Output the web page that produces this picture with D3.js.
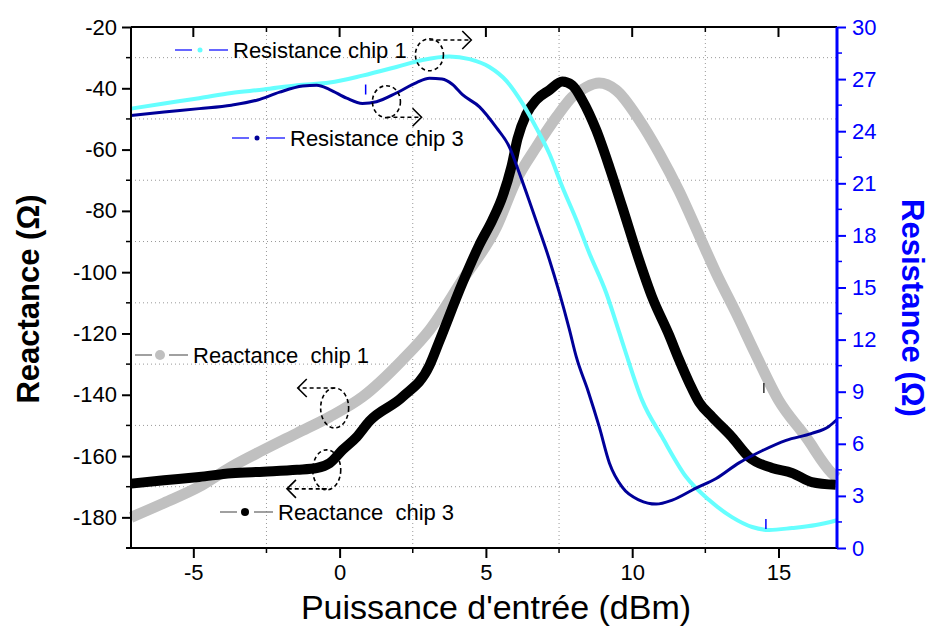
<!DOCTYPE html>
<html>
<head>
<meta charset="utf-8">
<script src="https://cdn.jsdelivr.net/npm/d3@7"></script>
<style>
  html, body { margin: 0; padding: 0; background: #fff; }
  svg { display: block; font-family: "Liberation Sans", Arial, sans-serif; }
</style>
</head>
<body>
<svg id="chart" width="929" height="630"></svg>
<script>
// ---------------- DATA ----------------
const xTicks = [-5, 0, 5, 10, 15];
const xMinorTicks = [-2.5, 2.5, 7.5, 12.5];
const leftTicks = [-20, -40, -60, -80, -100, -120, -140, -160, -180];
const leftMinorTicks = [-30, -50, -70, -90, -110, -130, -150, -170, -190];
const rightTicks = [0, 3, 6, 9, 12, 15, 18, 21, 24, 27, 30];
const rightMinorTicks = [1.5, 4.5, 7.5, 10.5, 13.5, 16.5, 19.5, 22.5, 25.5, 28.5];

// Reactance chip 3 (black, left axis)
const xReactChip3 = [-7.13, -6.0, -4.8, -3.7, -2.6, -1.45, -0.78, -0.34, 0.1, 0.58, 1.02, 2.15, 3.07, 3.41, 4.2, 4.78, 5.22, 5.56, 5.87, 6.08, 6.38, 6.72, 7.17, 7.61, 7.95, 8.29, 8.77, 9.22, 9.66, 10.2, 10.68, 11.26, 11.6, 11.95, 12.29, 12.73, 13.41, 13.99, 14.78, 15.46, 16.14, 16.96];
const reactChip3 = [-169, -167.9, -166.8, -165.6, -165.1, -164.5, -163.9, -162.3, -158, -153.8, -148.6, -140.7, -130.5, -122.5, -103.5, -91, -83, -75.5, -65.7, -56.5, -48.5, -43.8, -40.6, -37.8, -39, -43.8, -53.6, -65.7, -78.7, -95, -108.1, -120.5, -128.5, -136.1, -142.5, -147.2, -153.8, -160.3, -163.9, -165.5, -168.5, -169.4];

// Reactance chip 1 (grey, left axis)
const xReactChip1 = [-7.13, -6.0, -4.8, -3.7, -2.6, -1.45, -0.34, 0.78, 2.15, 3.07, 4.2, 5.36, 6.04, 6.72, 7.41, 7.95, 8.43, 8.87, 9.45, 10.24, 10.92, 11.6, 12.29, 12.87, 13.55, 14.2, 15.0, 15.94, 16.82, 17];
const reactChip1 = [-180, -175.3, -170, -163.5, -158, -152.5, -147.2, -140.7, -128.6, -118.9, -102.5, -85.3, -69.9, -59.2, -49.4, -42.8, -39.6, -38.3, -40.6, -50.3, -61.1, -73.5, -88.0, -100.3, -113.3, -126.4, -141.7, -153.8, -165.5, -167];

// Resistance chip 1 (cyan, right axis)
const xResChip1 = [-7.13, -6.0, -4.8, -3.7, -2.6, -1.45, -0.34, 0.78, 1.94, 2.83, 3.75, 4.44, 5.12, 5.7, 6.25, 6.72, 7.17, 7.61, 8.09, 8.53, 9.11, 9.56, 9.77, 10.34, 11.02, 11.84, 12.63, 13.41, 14.1, 14.68, 15.46, 16.28, 17];
const resChip1 = [25.3, 25.6, 25.9, 26.2, 26.4, 26.65, 26.8, 27.2, 27.7, 28.1, 28.3, 28.15, 27.7, 26.9, 25.6, 24.2, 22.7, 20.8, 18.9, 17.0, 14.7, 12.4, 11.3, 8.5, 6.4, 4.1, 2.76, 1.78, 1.21, 1.04, 1.15, 1.32, 1.6];

// Resistance chip 3 (navy, right axis)
const xResChip3 = [-7.13, -6.0, -4.8, -3.7, -2.8, -2.05, -1.26, -0.78, -0.34, 0.24, 0.78, 1.26, 1.94, 2.63, 3.07, 3.5, 3.85, 4.2, 4.78, 5.36, 5.8, 6.14, 6.48, 6.83, 7.17, 7.51, 7.85, 8.09, 8.5, 8.87, 9.22, 9.66, 10.24, 10.82, 11.37, 12.18, 12.87, 13.65, 14.44, 15.26, 16.14, 16.72, 17];
const resChip3 = [24.9, 25.1, 25.3, 25.5, 25.8, 26.25, 26.6, 26.65, 26.4, 25.9, 25.6, 25.7, 26.2, 26.8, 27.05, 27.0, 26.7, 26.1, 25.4, 24.2, 23.1, 21.6, 20.0, 18.3, 16.6, 14.7, 12.6, 11.0, 9.0, 7.0, 4.9, 3.5, 2.76, 2.53, 2.76, 3.45, 4.0, 4.9, 5.6, 6.2, 6.6, 7.0, 7.4];

// isolated error-bar marks seen on the plot
const errX = [0.89, 14.57, 14.5];
const errY = [26.4, 1.38, -137.8];
const errAxis = ["right", "right", "left"];

const legendLabels = ["Resistance chip 1", "Resistance chip 3", "Reactance  chip 1", "Reactance  chip 3"];

// annotations: ellipse centre (x, y on axis), arrow level, arrow end x
const annotations = [
  { axis: "right", cx: 3.07, cy: 28.4, ay: 29.25, ax: 4.5 },
  { axis: "right", cx: 1.6, cy: 25.7, ay: 24.8, ax: 2.8 },
  { axis: "left", cx: -0.17, cy: -144.3, ay: -137.8, ax: -1.43 },
  { axis: "left", cx: -0.44, cy: -164.5, ay: -170.7, ax: -1.8 }
];

// ---------------- LAYOUT ----------------
const svg = d3.select("#chart");
const L = 131, R = 837, T = 27, B = 548;
const x = d3.scaleLinear().domain([-7.13, 17]).range([L, R]);
const yL = d3.scaleLinear().domain([-190, -20]).range([B, T]);
const yR = d3.scaleLinear().domain([0, 30]).range([B, T]);

const blue = "#0000ff";
const fs = 22;
const fmt = d => String(d);

// grid
const grid = svg.append("g").attr("stroke", "#999").attr("stroke-width", 1).attr("stroke-dasharray", "1,3");
grid.selectAll("line.v").data(xMinorTicks).join("line")
  .attr("x1", d => x(d)).attr("x2", d => x(d)).attr("y1", T).attr("y2", B);
grid.selectAll("line.h").data(leftMinorTicks.filter(d => d > -190)).join("line")
  .attr("y1", d => yL(d)).attr("y2", d => yL(d)).attr("x1", L).attr("x2", R);

// curves
const curve = d3.curveMonotoneX;
function drawSeries(xs, ys, yScale, color, width) {
  const pts = xs.map((v, i) => [v, ys[i]]);
  svg.append("path").datum(pts)
    .attr("fill", "none").attr("stroke", color).attr("stroke-width", width)
    .attr("stroke-linejoin", "round").attr("stroke-linecap", "butt")
    .attr("d", d3.line().x(d => x(d[0])).y(d => yScale(d[1])).curve(curve));
}

drawSeries(xReactChip1, reactChip1, yL, "#c0c0c0", 11);
drawSeries(xReactChip3, reactChip3, yL, "#000000", 10);
drawSeries(xResChip1, resChip1, yR, "#66ffff", 4);
drawSeries(xResChip3, resChip3, yR, "#000099", 3);

// small error-bar marks
errX.forEach((v, i) => {
  const ys = errAxis[i] === "right" ? yR : yL;
  svg.append("line").attr("x1", x(v)).attr("x2", x(v))
    .attr("y1", ys(errY[i]) - 5).attr("y2", ys(errY[i]) + 5)
    .attr("stroke", errAxis[i] === "right" ? blue : "#333").attr("stroke-width", 1.5);
});

// axes
// bottom
const bottomAxis = d3.axisBottom(x).tickValues(xTicks).tickSize(10).tickPadding(6).tickFormat(fmt);
const gB = svg.append("g").attr("transform", `translate(0,${B})`).call(bottomAxis);
gB.select(".domain").attr("stroke-width", 2).attr("d", `M${L - 5},0H${R}`);
gB.selectAll(".tick line").attr("stroke-width", 2);
gB.selectAll(".tick text").attr("font-size", fs).attr("font-family", "Liberation Sans, Arial").attr("fill", "#000");
gB.selectAll("line.minor").data(xMinorTicks).join("line").attr("class", "minor")
  .attr("x1", d => x(d)).attr("x2", d => x(d)).attr("y1", 0).attr("y2", 5).attr("stroke", "#000").attr("stroke-width", 1.5);

// top
const gT = svg.append("g").attr("transform", `translate(0,${T})`);
gT.append("line").attr("x1", L).attr("x2", R).attr("stroke", "#000").attr("stroke-width", 2);
gT.selectAll("line.maj").data(xTicks).join("line").attr("class", "maj")
  .attr("x1", d => x(d)).attr("x2", d => x(d)).attr("y1", 0).attr("y2", 10).attr("stroke", "#000").attr("stroke-width", 2);
gT.selectAll("line.min").data(xMinorTicks).join("line").attr("class", "min")
  .attr("x1", d => x(d)).attr("x2", d => x(d)).attr("y1", 0).attr("y2", 5).attr("stroke", "#000").attr("stroke-width", 1.5);

// left
const leftAxis = d3.axisLeft(yL).tickValues(leftTicks).tickSize(9).tickPadding(5).tickFormat(fmt);
const gL = svg.append("g").attr("transform", `translate(${L},0)`).call(leftAxis);
gL.select(".domain").attr("stroke-width", 2).attr("d", `M0,${T}V${B}`);
gL.selectAll(".tick line").attr("stroke-width", 2);
gL.selectAll(".tick text").attr("font-size", fs).attr("font-family", "Liberation Sans, Arial").attr("fill", "#000");
gL.selectAll("line.minor").data(leftMinorTicks).join("line").attr("class", "minor")
  .attr("y1", d => yL(d)).attr("y2", d => yL(d)).attr("x1", 0).attr("x2", -5).attr("stroke", "#000").attr("stroke-width", 1.5);

// right
const rightAxis = d3.axisRight(yR).tickValues(rightTicks).tickSize(9).tickPadding(6).tickFormat(fmt);
const gR = svg.append("g").attr("transform", `translate(${R},0)`).call(rightAxis);
gR.select(".domain").attr("stroke", blue).attr("stroke-width", 3).attr("d", `M0,${T}V${B}`);
gR.selectAll(".tick line").attr("stroke", blue).attr("stroke-width", 2);
gR.selectAll(".tick text").attr("font-size", fs).attr("font-family", "Liberation Sans, Arial").attr("fill", blue);
gR.selectAll("line.minor").data(rightMinorTicks).join("line").attr("class", "minor")
  .attr("y1", d => yR(d)).attr("y2", d => yR(d)).attr("x1", 0).attr("x2", 5).attr("stroke", blue).attr("stroke-width", 1.5);

// axis titles
svg.append("text").attr("x", 496).attr("y", 619).attr("text-anchor", "middle")
  .attr("font-size", 34).attr("fill", "#000").text("Puissance d'entrée (dBm)");
svg.append("text").attr("transform", `translate(39,299) rotate(-90)`).attr("text-anchor", "middle")
  .attr("font-size", 31).attr("font-weight", "bold").attr("fill", "#000").text("Reactance (Ω)");
svg.append("text").attr("transform", `translate(902,308) rotate(90)`).attr("text-anchor", "middle")
  .attr("font-size", 31).attr("font-weight", "bold").attr("fill", blue).text("Resistance (Ω)");

// legend entries
const legendDefs = [
  { sx: 175, sy: 50, dash: "#3333ff", dot: "#66ffff", r: 2.5 },
  { sx: 232, sy: 138, dash: "#3333ff", dot: "#000099", r: 2.5 },
  { sx: 135, sy: 355, dash: "#808080", dot: "#c0c0c0", r: 5 },
  { sx: 220, sy: 512, dash: "#808080", dot: "#000000", r: 4 }
];
legendLabels.forEach((lab, i) => {
  const d = legendDefs[i];
  const g = svg.append("g").attr("transform", `translate(${d.sx},${d.sy})`);
  g.append("line").attr("x1", 0).attr("x2", 17).attr("stroke", d.dash).attr("stroke-width", 1.5);
  g.append("line").attr("x1", 34).attr("x2", 53).attr("stroke", d.dash).attr("stroke-width", 1.5);
  g.append("circle").attr("cx", 25).attr("cy", 0).attr("r", d.r).attr("fill", d.dot);
  g.append("text").attr("x", 58).attr("y", 8).attr("font-size", fs).attr("fill", "#000")
    .style("white-space", "pre").attr("xml:space", "preserve").text(lab);
});

// annotations
annotations.forEach(a => {
  const ys = a.axis === "right" ? yR : yL;
  const cx = x(a.cx), cy = ys(a.cy);
  const rx = 14, ry = a.axis === "right" ? 16 : 20;
  const g = svg.append("g").attr("fill", "none").attr("stroke", "#000").attr("stroke-width", 1.6);
  g.append("ellipse").attr("cx", cx).attr("cy", cy).attr("rx", rx).attr("ry", ry).attr("stroke-dasharray", "4,3");
  const ay = ys(a.ay), ax = x(a.ax);
  g.append("line").attr("x1", cx).attr("x2", ax).attr("y1", ay).attr("y2", ay).attr("stroke-dasharray", "4,3");
  const dir = ax > cx ? 1 : -1;
  g.append("path").attr("d", `M${ax - dir * 9},${ay - 9}L${ax},${ay}L${ax - dir * 9},${ay + 9}`);
});
</script>
</body>
</html>
